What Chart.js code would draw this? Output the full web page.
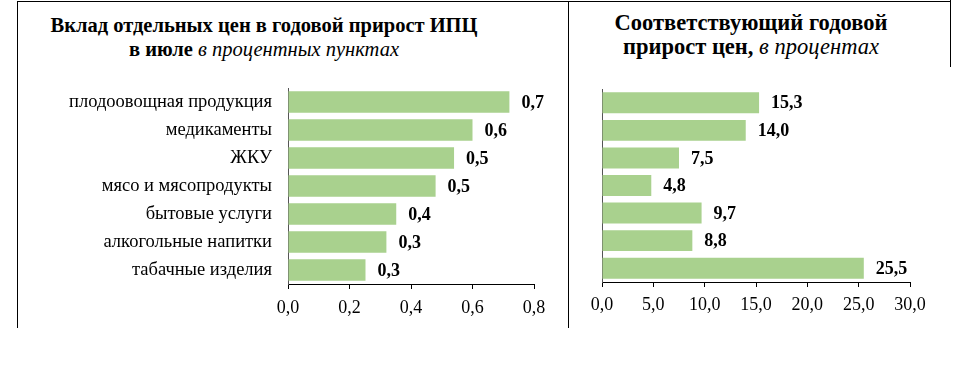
<!DOCTYPE html>
<html>
<head>
<meta charset="utf-8">
<script src="https://cdn.jsdelivr.net/npm/chart.js@4.4.1/dist/chart.umd.min.js"></script>
<style>
    html, body { margin: 0; padding: 0; background: #fff; }
    #page { position: relative; width: 974px; height: 372px; overflow: hidden; color: #000; }
    .line { position: absolute; background: #000; }
    .title { position: absolute; text-align: center; font-family: 'Liberation Serif', serif; line-height: 24px; font-weight: bold; white-space: nowrap; }
    .title i { font-weight: normal; font-style: italic; }
    .box { position: absolute; }
</style>
</head>
<body>
<div id="page">
    <div class="line" style="left:17px; top:1px; width:934px; height:1px;"></div>
    <div class="line" style="left:17px; top:1px; width:1px; height:327px;"></div>
    <div class="line" style="left:568px; top:1px; width:1px; height:327px;"></div>
    <div class="line" style="left:950px; top:0px; width:1px; height:67px;"></div>

    <div class="title" style="left:40px; top:13px; width:448px; font-size:20.5px;">Вклад отдельных цен в годовой прирост ИПЦ<br>в июле <i>в процентных пунктах</i></div>
    <div class="title" style="left:601px; top:11px; width:300px; font-size:22.5px;">Соответствующий годовой<br>прирост цен, <i>в процентах</i></div>

    <div class="box" style="left:20px; top:80px; width:548px; height:250px;"><canvas id="leftChart"></canvas></div>
    <div class="box" style="left:570px; top:80px; width:380px; height:250px;"><canvas id="rightChart"></canvas></div>
</div>
<script>
// ---- data ----
const categories = [
    'плодоовощная продукция',
    'медикаменты',
    'ЖКУ',
    'мясо и мясопродукты',
    'бытовые услуги',
    'алкогольные напитки',
    'табачные изделия'
];
const contribution = [0.72, 0.60, 0.54, 0.48, 0.352, 0.32, 0.252];   // п.п.
const priceGrowth = [15.3, 14.0, 7.5, 4.8, 9.7, 8.8, 25.5];          // %
const contribTicks = [0, 0.2, 0.4, 0.6, 0.8];
const growthTicks = [0, 5, 10, 15, 20, 25, 30];

const BAR_COLOR = '#a9d18e';
const FONT = 'Liberation Serif';

const fmt = v => v.toFixed(1).replace('.', ',');

// value labels to the right of each bar
const valueLabels = {
    id: 'valueLabels',
    afterDatasetsDraw(chart) {
        const ctx = chart.ctx;
        const meta = chart.getDatasetMeta(0);
        ctx.save();
        ctx.font = 'bold 18px "' + FONT + '"';
        ctx.fillStyle = '#000';
        ctx.textAlign = 'left';
        ctx.textBaseline = 'middle';
        meta.data.forEach((bar, i) => {
            const v = chart.data.datasets[0].data[i];
            ctx.fillText(fmt(v), bar.x + 12, bar.y + 1);
        });
        ctx.restore();
    }
};

function makeChart(id, values, tickVals, opts) {
    const ctx = document.getElementById(id).getContext('2d');
    return new Chart(ctx, {
        type: 'bar',
        data: {
            labels: opts.showLabels ? categories : categories.map(() => ''),
            datasets: [{
                data: values,
                backgroundColor: BAR_COLOR,
                borderWidth: 0,
                categoryPercentage: 1.0,
                barPercentage: 0.76
            }]
        },
        plugins: [valueLabels],
        options: {
            indexAxis: 'y',
            responsive: true,
            maintainAspectRatio: false,
            animation: false,
            layout: { padding: { top: opts.padTop, right: opts.padRight, left: 0, bottom: 0 } },
            plugins: { legend: { display: false }, tooltip: { enabled: false } },
            scales: {
                x: {
                    min: tickVals[0],
                    max: tickVals[tickVals.length - 1],
                    afterBuildTicks: s => { s.ticks = tickVals.map(v => ({ value: v })); },
                    afterFit: s => { s.height = opts.xHeight; },
                    grid: { drawOnChartArea: false, drawTicks: true, tickLength: 5, tickColor: '#000' },
                    border: { display: true, color: '#000', width: 1 },
                    ticks: {
                        color: '#000',
                        padding: opts.xPad,
                        font: { family: FONT, size: 18 },
                        callback: v => fmt(v)
                    }
                },
                y: {
                    // keep the label half-height padding out of the layout
                    afterFit: s => { s.width = opts.yWidth; s.paddingTop = 0; s.paddingBottom = 0; },
                    grid: { drawOnChartArea: false, drawTicks: false },
                    border: { display: true, color: '#555', width: 1 },
                    ticks: {
                        color: '#000',
                        padding: 16,
                        font: { family: FONT, size: 18.5 }
                    }
                }
            }
        }
    });
}

makeChart('leftChart', contribution, contribTicks, {
    showLabels: true, yWidth: 268, xHeight: 46, xPad: 8, padTop: 8, padRight: 34
});
makeChart('rightChart', priceGrowth, growthTicks, {
    showLabels: false, yWidth: 32, xHeight: 48, xPad: 7, padTop: 9, padRight: 40
});
</script>
</body>
</html>
